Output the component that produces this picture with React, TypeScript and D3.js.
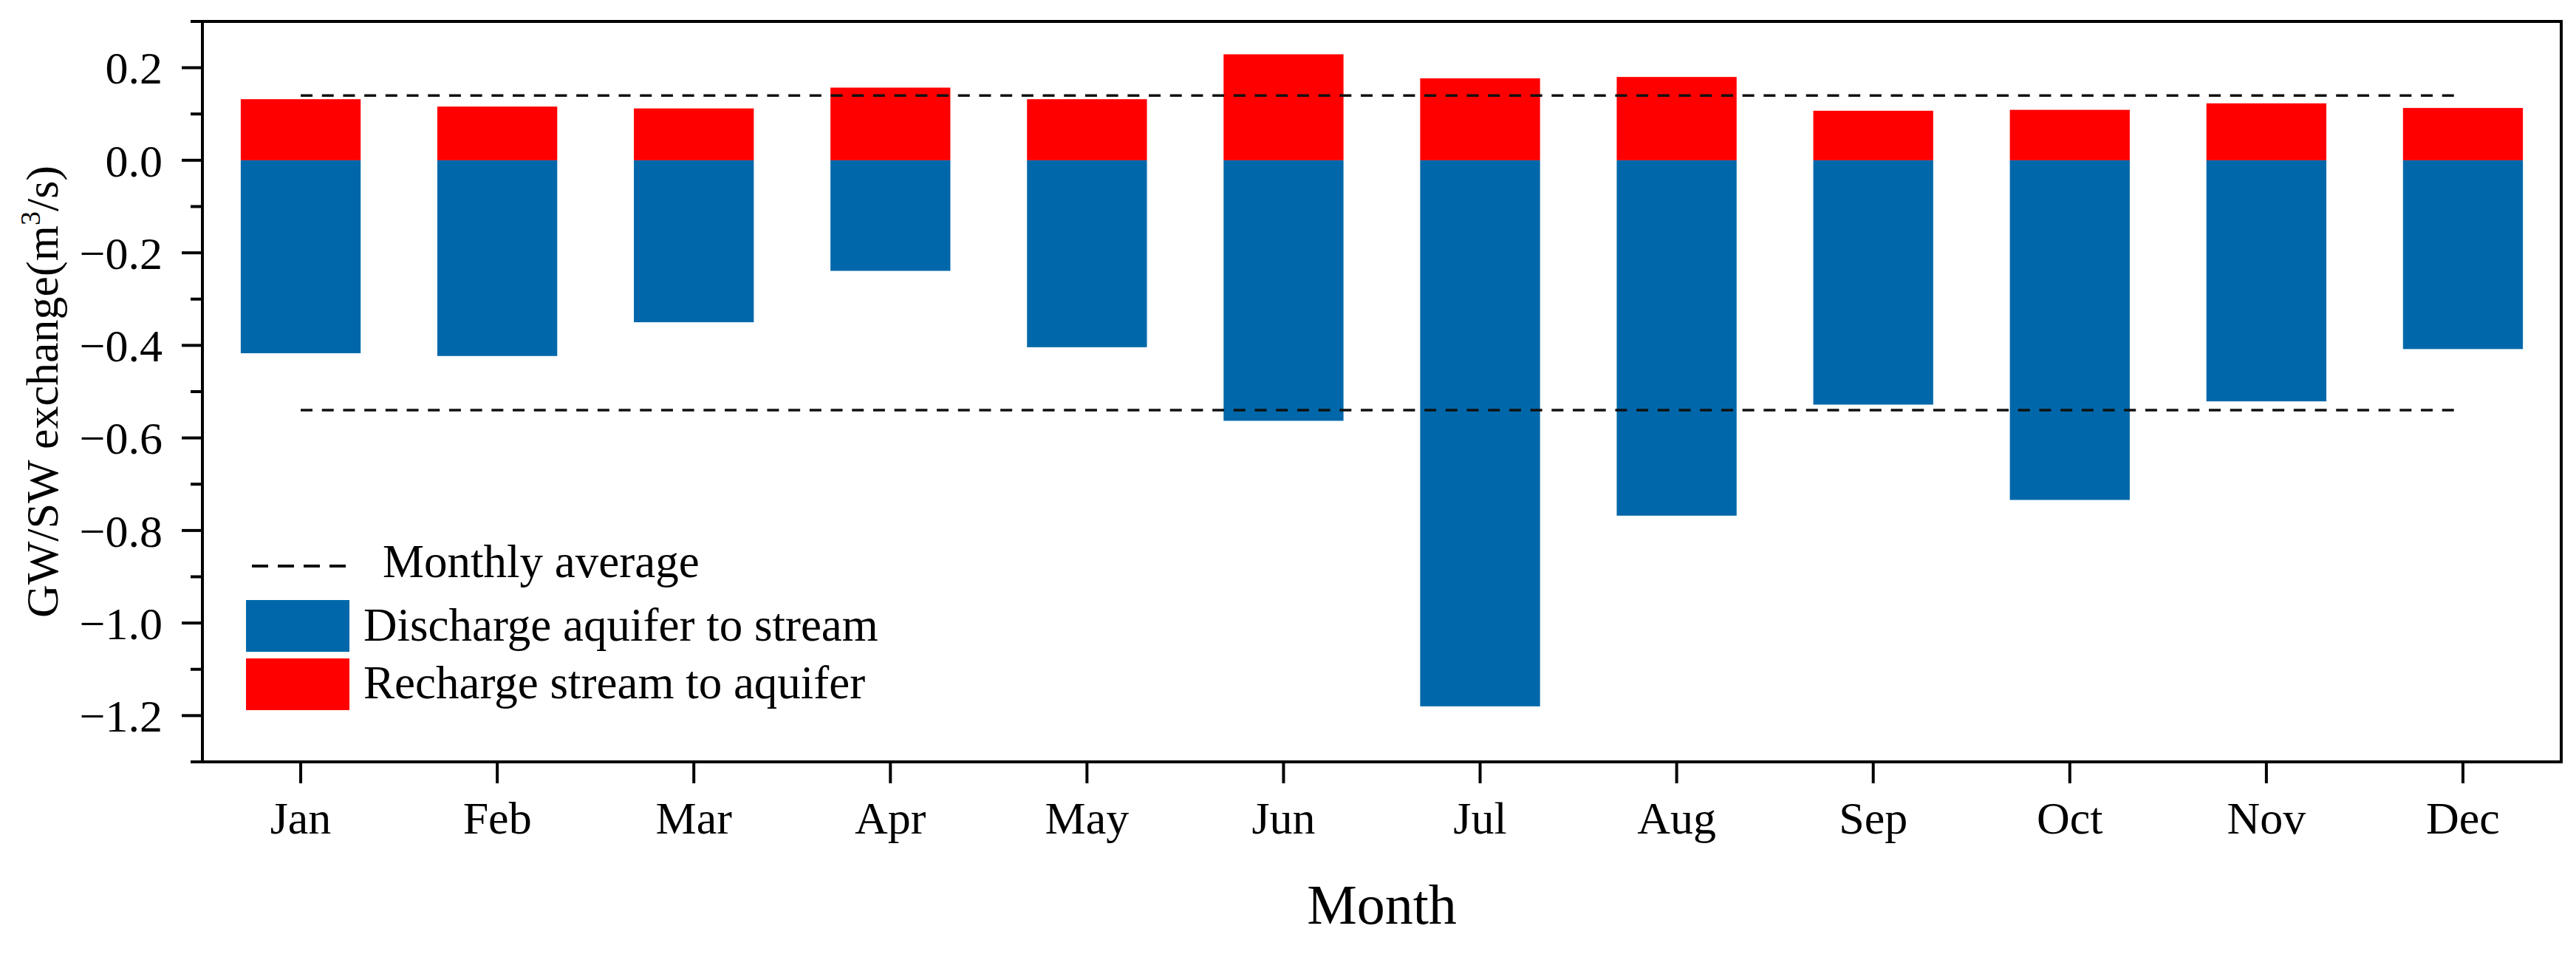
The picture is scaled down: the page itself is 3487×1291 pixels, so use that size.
import * as d3 from "d3";

const months = ["Jan", "Feb", "Mar", "Apr", "May", "Jun", "Jul", "Aug", "Sep", "Oct", "Nov", "Dec"];
// recharge stream -> aquifer (positive), discharge aquifer -> stream (negative), m3/s
const recharge = [0.132, 0.116, 0.112, 0.157, 0.132, 0.229, 0.177, 0.18, 0.107, 0.109, 0.123, 0.113];
const discharge = [-0.417, -0.423, -0.35, -0.239, -0.404, -0.563, -1.18, -0.768, -0.528, -0.734, -0.521, -0.408];
const monthlyAverage = [0.14, -0.54];
const yMajorTicks = [0.2, 0, -0.2, -0.4, -0.6, -0.8, -1.0, -1.2];
const yMinorTicks = [0.3, 0.1, -0.1, -0.3, -0.5, -0.7, -0.9, -1.1, -1.3];

const W = 3487;
const H = 1291;
const margin = { top: 29, right: 20, bottom: 260, left: 274 };
const BLUE = "#0068aa";
const RED = "#ff0000";
const FONT = "'Liberation Serif', 'Times New Roman', serif";

export default function App() {
  const x = d3
    .scaleBand<string>()
    .domain(months)
    .range([margin.left, W - margin.right])
    .paddingInner(0.39)
    .paddingOuter(0.195);
  const y = d3.scaleLinear().domain([-1.3, 0.3]).range([H - margin.bottom, margin.top]);
  const fmt = d3.format(".1f");

  const x0 = margin.left;
  const x1 = W - margin.right;
  const y0 = margin.top;
  const y1 = H - margin.bottom;
  const center = (m: string) => (x(m) ?? 0) + x.bandwidth() / 2;

  // legend
  const lgX = 333;
  const lgSwW = 140;
  const lgSwH = 70;
  const lgTextX = 492;

  return (
    <svg
      width={W}
      height={H}
      viewBox={`0 0 ${W} ${H}`}
      style={{ position: "absolute", left: 0, top: 0, background: "#fff" }}
      fontFamily={FONT}
    >
      <rect width={W} height={H} fill="#fff" />

      {/* bars */}
      {months.map((m, i) => (
        <g key={m}>
          <rect
            x={x(m)}
            y={y(0)}
            width={x.bandwidth()}
            height={y(discharge[i]) - y(0)}
            fill={BLUE}
          />
          <rect
            x={x(m)}
            y={y(recharge[i])}
            width={x.bandwidth()}
            height={y(0) - y(recharge[i])}
            fill={RED}
          />
        </g>
      ))}

      {/* monthly average lines */}
      {monthlyAverage.map((v) => (
        <line
          key={v}
          x1={center(months[0])}
          x2={center(months[months.length - 1])}
          y1={y(v)}
          y2={y(v)}
          stroke="#111"
          strokeWidth={3.5}
          strokeDasharray="16 12.7"
        />
      ))}

      {/* frame */}
      <rect x={x0} y={y0} width={x1 - x0} height={y1 - y0} fill="none" stroke="#000" strokeWidth={4} />

      {/* y ticks */}
      {yMajorTicks.map((t) => (
        <g key={`M${t}`}>
          <line x1={x0 - 28} x2={x0} y1={y(t)} y2={y(t)} stroke="#000" strokeWidth={4} />
          <text
            x={x0 - 54}
            y={y(t)}
            dy="0.35em"
            textAnchor="end"
            fontSize={62}
            fill="#000"
          >
            {fmt(t)}
          </text>
        </g>
      ))}
      {yMinorTicks.map((t) => (
        <line key={`m${t}`} x1={x0 - 16} x2={x0} y1={y(t)} y2={y(t)} stroke="#000" strokeWidth={4} />
      ))}

      {/* x ticks */}
      {months.map((m) => (
        <g key={`t${m}`}>
          <line x1={center(m)} x2={center(m)} y1={y1} y2={y1 + 29} stroke="#000" strokeWidth={4} />
          <text x={center(m)} y={1128} textAnchor="middle" fontSize={62} fill="#000">
            {m}
          </text>
        </g>
      ))}

      {/* axis titles */}
      <text x={(x0 + x1) / 2} y={1250} textAnchor="middle" fontSize={76} fill="#000">
        Month
      </text>
      <text
        transform={`translate(78, ${(y0 + y1) / 2}) rotate(-90)`}
        textAnchor="middle"
        fontSize={62}
        fill="#000"
      >
        GW/SW exchange(m
        <tspan fontSize={38} dy={-24}>
          3
        </tspan>
        <tspan dy={24}>/s)</tspan>
      </text>

      {/* legend */}
      <line
        x1={lgX + 8}
        x2={lgX + lgSwW}
        y1={766}
        y2={766}
        stroke="#111"
        strokeWidth={4}
        strokeDasharray="22 13"
      />
      <text x={518} y={781} fontSize={63} fill="#000">
        Monthly average
      </text>
      <rect x={lgX} y={812} width={lgSwW} height={lgSwH} fill={BLUE} />
      <text x={lgTextX} y={867} fontSize={63} fill="#000">
        Discharge aquifer to stream
      </text>
      <rect x={lgX} y={891} width={lgSwW} height={lgSwH} fill={RED} />
      <text x={lgTextX} y={945} fontSize={63} fill="#000">
        Recharge stream to aquifer
      </text>
    </svg>
  );
}
